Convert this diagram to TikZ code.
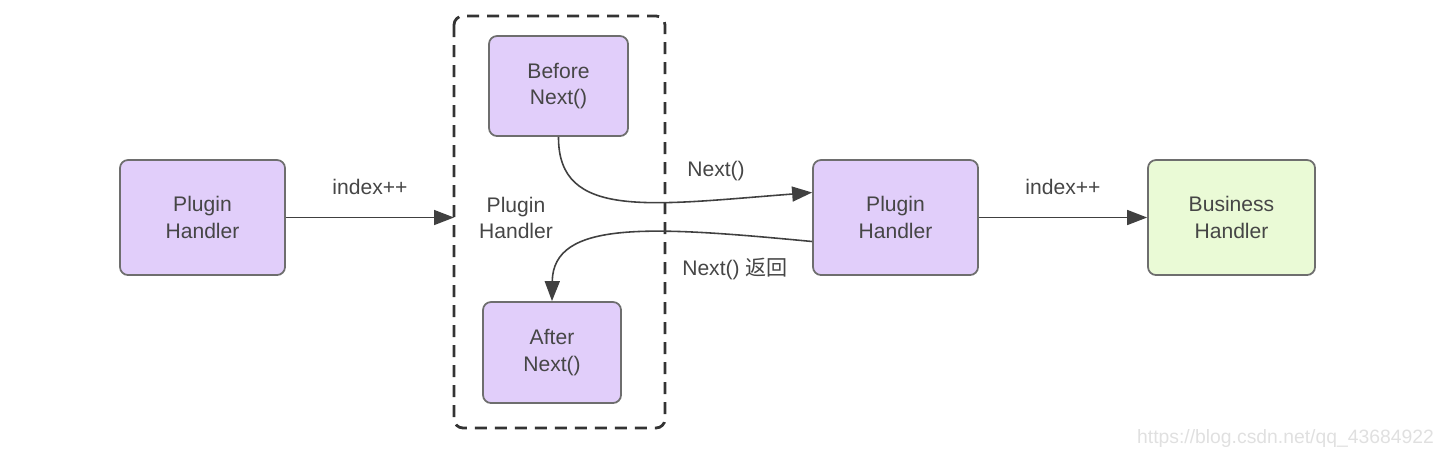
\documentclass[tikz,border=0pt]{standalone}
\usepackage{fontspec}
\setmainfont{Liberation Sans}
\newfontfamily\cjk{Noto Sans CJK SC}
\usetikzlibrary{arrows.meta}
\definecolor{boxpurple}{RGB}{225,206,250}
\definecolor{boxgreen}{RGB}{234,250,214}
\definecolor{boxline}{RGB}{110,110,110}
\definecolor{txt}{RGB}{70,70,70}
\tikzset{
  handler/.style={draw=boxline, line width=1pt, fill=boxpurple, rounded corners=1.6mm,
    align=center, text=txt, font=\fontsize{12}{15}\selectfont},
  flow/.style={-{Triangle[length=4mm, width=3mm]}, line width=0.9pt, draw=black!75},
  lbl/.style={text=txt, font=\fontsize{12}{15}\selectfont, align=center}
}
\begin{document}
\begin{tikzpicture}[x=0.2mm, y=-0.2mm]
  \useasboundingbox (0,0) rectangle (1448,456);
  % handlers
  \node[handler, minimum width=33mm, minimum height=23mm] (ph1) at (202.5,217.5) {Plugin\\Handler};
  \node[handler, minimum width=27.8mm, minimum height=20mm] (before) at (558.5,86) {Before\\Next()};
  \node[handler, minimum width=27.6mm, minimum height=20.2mm] (after) at (552,352.5) {After\\Next()};
  \node[handler, minimum width=33mm, minimum height=23mm] (ph2) at (895.5,217.5) {Plugin\\Handler};
  \node[handler, fill=boxgreen, minimum width=33.4mm, minimum height=23mm] (biz) at (1231.5,217.5) {Business\\Handler};
  % dashed group
  \draw[dash pattern=on 2.4mm off 1.6mm, line width=1.6pt, draw=black!80, rounded corners=1.8mm]
    (454,16) rectangle (665,428);
  \node[lbl] (grp) at (516,218) {Plugin\\Handler};
  \coordinate (grpin) at (454,217.5);
  % connectors
  \draw[flow] (ph1.east) -- (grpin) node[lbl, midway, above=3.2mm] {index++};
  \draw[flow] (ph2.east) -- (biz.west) node[lbl, midway, above=3.2mm] {index++};
  \draw[flow] (before.south) .. controls (558,220) and (650,205) .. ([yshift=5mm]ph2.west);
  \draw[flow] ([yshift=-4.8mm]ph2.west) .. controls (650,226) and (553,220) .. (after.north);
  \node[lbl] (nxt) at (716,171) {Next()};
  \node[lbl] (ret) at (735,269) {Next() {\cjk 返回}};
  % watermark
  \node[text=black!12, font=\fontsize{11}{13}\selectfont, anchor=east] (wm) at (1440,438) {https://blog.csdn.net/qq\_43684922};
\end{tikzpicture}
\end{document}
